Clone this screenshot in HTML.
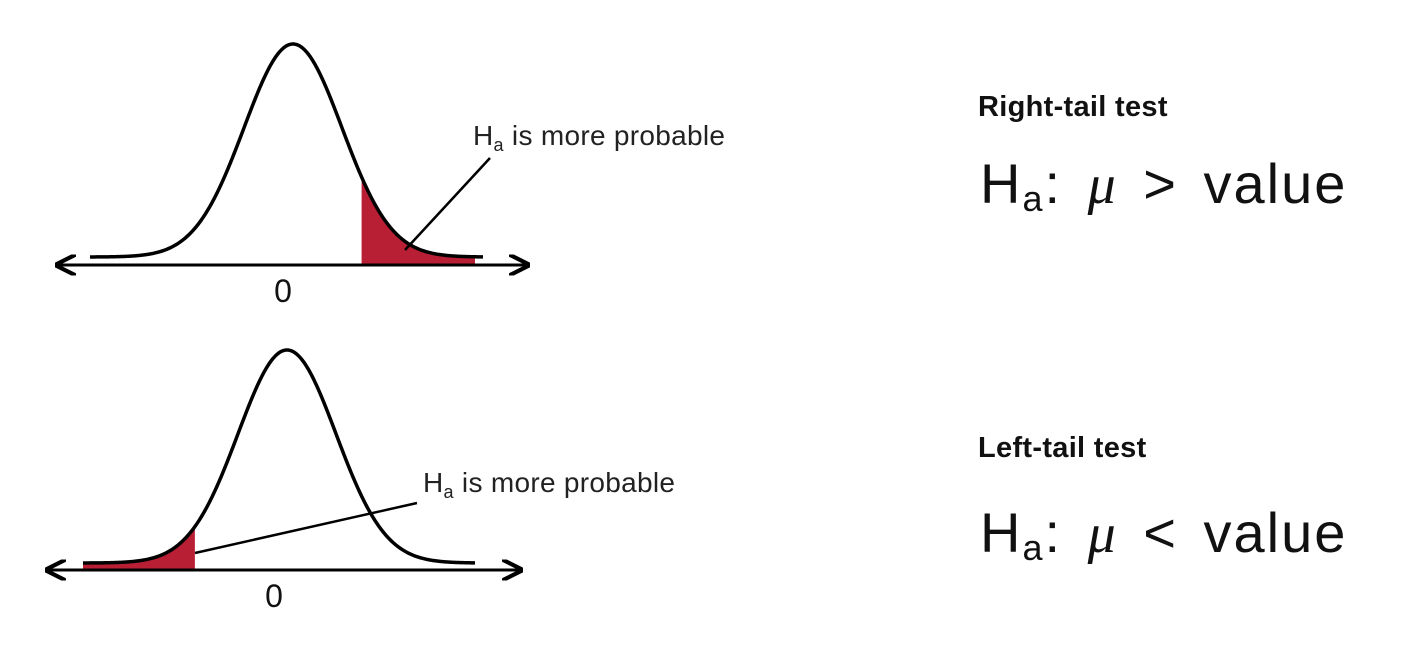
<!DOCTYPE html>
<html><head><meta charset="utf-8"><style>
html,body{margin:0;padding:0;background:#fff;}
svg{display:block;}
.lbl{font-family:"Liberation Sans",sans-serif;font-size:28px;fill:#222;letter-spacing:0.3px;}
.ttl{font-family:"Liberation Sans",sans-serif;font-size:29px;font-weight:bold;fill:#111;letter-spacing:0.3px;}
.hyp{font-family:"Liberation Sans",sans-serif;font-size:56px;fill:#111;letter-spacing:2px;word-spacing:8px;}
</style></head><body>
<svg id="chart" width="1406" height="650" viewBox="0 0 1406 650">
  <defs>
    <marker id="arr" viewBox="0 0 10 10" refX="9" refY="5" markerWidth="7" markerHeight="7" orient="auto-start-reverse">
      <path d="M0,0 L10,5 L0,10" fill="none" stroke="#000" stroke-width="2"/>
    </marker>
  </defs>
  <g id="panels"></g>
  <text class="ttl" x="978" y="116">Right-tail test</text>
  <text class="hyp" x="980" y="203">H<tspan font-size="36" dy="8">a</tspan><tspan dy="-8">: </tspan><tspan font-family="Liberation Serif" font-style="italic">μ</tspan> &gt; value</text>
  <text class="ttl" x="978" y="457">Left-tail test</text>
  <text class="hyp" x="980" y="552">H<tspan font-size="36" dy="8">a</tspan><tspan dy="-8">: </tspan><tspan font-family="Liberation Serif" font-style="italic">μ</tspan> &lt; value</text>
</svg>
<script>
const panelNames = ["right-tail", "left-tail"];
const tails = ["right", "left"];
const cutoffsSigma = [1.4, -1.88];
const peakX = [293, 287];
const peakY = [44, 350];
const baseY = [257, 563];
const axisY = [265, 570];
const curveRange = [[90, 483], [83, 475]];
const axisRange = [[57, 528], [47, 521]];
const zeroX = [283, 274];
const labelPos = [[473, 145], [423, 492]];
const leader = [[[490, 158], [405, 250]], [[417, 503], [195, 553]]];
const sigma = 49;

const ns = "http://www.w3.org/2000/svg";
const root = document.getElementById("panels");
function mk(tag, attrs) { const e = document.createElementNS(ns, tag); for (const k in attrs) e.setAttribute(k, attrs[k]); return e; }

panelNames.forEach((name, i) => {
  const g = mk("g", {});
  
  
  const h = baseY[i] - peakY[i];
  const yOf = x => baseY[i] - h * Math.exp(-0.5 * Math.pow((x - peakX[i]) / sigma, 2));
  const cut = peakX[i] + cutoffsSigma[i] * sigma;
  const [a, b] = tails[i] === "right" ? [cut, curveRange[i][1] - 8] : [curveRange[i][0], cut];
  let d = `M${a},${axisY[i]}`;
  for (let x = a; x <= b; x += 1) d += ` L${x},${yOf(x)}`;
  d += ` L${b},${yOf(b)} L${b},${axisY[i]} Z`;
  const sh = mk("path", { d, fill: "#b81f35" });
  
  
  g.appendChild(sh);
  const ax = mk("line", { x1: axisRange[i][0], y1: axisY[i], x2: axisRange[i][1], y2: axisY[i], stroke: "#000", "stroke-width": 3, "marker-start": "url(#arr)", "marker-end": "url(#arr)" });
  
  
  g.appendChild(ax);
  let c = "";
  for (let x = curveRange[i][0]; x <= curveRange[i][1]; x += 1) c += (c ? " L" : "M") + x + "," + yOf(x);
  const cv = mk("path", { d: c, fill: "none", stroke: "#000", "stroke-width": 3.5 });
  
  
  g.appendChild(cv);
  const z = mk("text", { x: zeroX[i], y: axisY[i] + 37, "text-anchor": "middle", "font-family": "Liberation Sans, sans-serif", "font-size": 32, fill: "#111" });
  z.textContent = "0";
  
  
  g.appendChild(z);
  const ln = mk("line", { x1: leader[i][0][0], y1: leader[i][0][1], x2: leader[i][1][0], y2: leader[i][1][1], stroke: "#000", "stroke-width": 2.5 });
  
  
  g.appendChild(ln);
  const t = mk("text", { x: labelPos[i][0], y: labelPos[i][1], class: "lbl" });
  t.innerHTML = 'H<tspan font-size="18" dy="6">a</tspan><tspan dy="-6"> is more probable</tspan>';
  
  
  g.appendChild(t);
  root.appendChild(g);
});
</script>
</body></html>
